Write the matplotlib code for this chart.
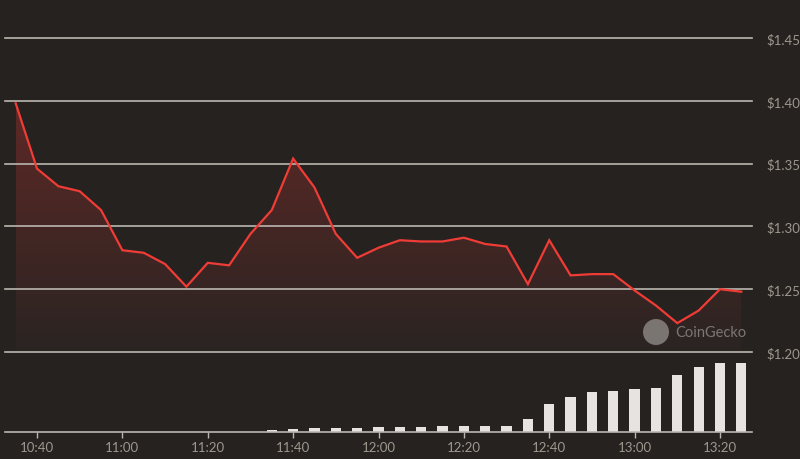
import matplotlib
matplotlib.use("Agg")
import matplotlib.pyplot as plt
import numpy as np
from matplotlib.patches import Polygon, Ellipse

# ---- data ----
start_time = "10:35"
step_min = 5
prices = [1.398, 1.346, 1.332, 1.328, 1.313, 1.281, 1.279, 1.270, 1.252, 1.271,
          1.269, 1.294, 1.313, 1.354, 1.331, 1.294, 1.275, 1.283, 1.289, 1.288,
          1.288, 1.291, 1.286, 1.284, 1.254, 1.289, 1.261, 1.262, 1.262, 1.249,
          1.237, 1.223, 1.233, 1.250, 1.248]
volumes = [0, 0, 0, 0, 0, 0, 0, 0, 0, 0, 0, 0,
           1.7, 2.3, 4.0, 4.0, 4.0, 5.0, 5.0, 5.0, 5.7, 5.7, 5.7, 5.7,
           12.3, 28.3, 35.3, 40.0, 40.7, 43.3, 44.3, 57.3, 65.0, 68.7, 68.7]
x_tick_labels = ["10:40", "11:00", "11:20", "11:40", "12:00", "12:20", "12:40", "13:00", "13:20"]
y_ticks = [1.20, 1.25, 1.30, 1.35, 1.40, 1.45]
y_tick_labels = ["$1.20", "$1.25", "$1.30", "$1.35", "$1.40", "$1.45"]

def to_min(s):
    h, m = s.split(":")
    return int(h) * 60 + int(m)

t0 = to_min(start_time)
x = np.arange(len(prices)) * step_min
tick_pos = [to_min(s) - t0 for s in x_tick_labels]

# ---- style ----
BG = "#25221f"
GRID = "#bab6b0"
TXT = "#9d978e"
LINE = "#f03c36"
BAR = "#e6e3e0"
FONT = "Lato"

W, H = 800, 460
fig = plt.figure(figsize=(W / 100, H / 100), dpi=100, facecolor=BG)

def fx(px): return px / W
def fy(py): return 1 - py / H

left_px, right_px = 5, 752
xlim = (-2.5, x[-1] + 2.5)

# price axes
ax = fig.add_axes([fx(left_px), fy(353), fx(right_px - left_px), (353 - 39) / H])
ax.set_facecolor("none")
ax.set_xlim(*xlim)
ax.set_ylim(1.20, 1.45)
for s in ax.spines.values():
    s.set_visible(False)
ax.set_xticks([])
ax.yaxis.tick_right()
ax.set_yticks(y_ticks)
ax.set_yticklabels(y_tick_labels, fontfamily=FONT, fontsize=9.5, color=TXT)
ax.tick_params(axis="y", length=0, pad=10.5)
for yv in y_ticks:
    ax.axhline(yv, color=GRID, lw=1.2, zorder=1, clip_on=False)

# gradient fill under line
verts = [(x[0], 1.20)] + list(zip(x, prices)) + [(x[-1], 1.20)]
poly = Polygon(verts, closed=True, facecolor="none", edgecolor="none")
ax.add_patch(poly)
top_c = np.array([0.37, 0.16, 0.15])
bot_c = np.array([0.165, 0.142, 0.133])
n = 256
tt = np.linspace(0, 1, n)[:, None]
grad = top_c * (1 - tt) + bot_c * tt
img = np.repeat(grad[:, None, :], 2, axis=1)
im = ax.imshow(img, extent=[x[0], x[-1], 1.20, 1.40], aspect="auto", origin="upper", zorder=0.5)
im.set_clip_path(poly)
ax.set_xlim(*xlim)
ax.set_ylim(1.20, 1.45)

ax.plot(x, prices, color=LINE, lw=1.6, zorder=3, solid_joinstyle="miter", clip_on=False)

# volume axes
vax = fig.add_axes([fx(left_px), fy(432.7), fx(right_px - left_px), (432.7 - 353) / H])
vax.set_facecolor("none")
vax.set_xlim(*xlim)
vax.set_ylim(0, 80)
vax.bar(x, volumes, width=2.4, color=BAR, zorder=2)
for k, s in vax.spines.items():
    s.set_visible(k == "bottom")
vax.spines["bottom"].set_color(GRID)
vax.spines["bottom"].set_linewidth(1.2)
vax.set_yticks([])
vax.set_xticks(tick_pos)
vax.set_xticklabels(x_tick_labels, fontfamily=FONT, fontsize=9.5, color=TXT)
vax.tick_params(axis="x", length=4, width=1, color=GRID, pad=2.5)

# watermark
circ = Ellipse((fx(656), fy(333)), width=26 / W, height=26 / H, transform=fig.transFigure,
               facecolor="#8e8a86", edgecolor="none", alpha=0.8, zorder=5)
fig.patches.append(circ)
fig.text(fx(675), fy(333), "CoinGecko", fontfamily=FONT, fontsize=10.5,
         color="#7a7673", va="center", ha="left", zorder=6)

fig.savefig("out.png", dpi=100, facecolor=BG)
